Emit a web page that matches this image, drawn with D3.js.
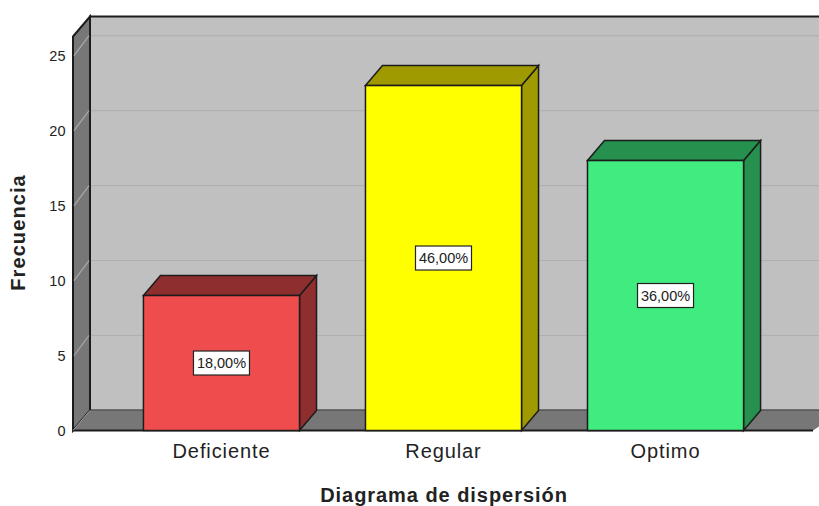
<!DOCTYPE html>
<html>
<head>
<meta charset="utf-8">
<script src="https://cdn.jsdelivr.net/npm/d3@7"></script>
<style>
html,body{margin:0;padding:0;background:#fff;overflow:hidden}
text{font-family:"Liberation Sans",Arial,sans-serif;fill:#222}
</style>
</head>
<body>
<svg id="chart" width="819" height="506"></svg>
<script>
// Survey frequencies per category
const categories = ["Deficiente", "Regular", "Optimo"];
const frequencies = [9, 23, 18];
const percentLabels = ["18,00%", "46,00%", "36,00%"];
const yTicks = [0, 5, 10, 15, 20, 25];
const frontColors = ["#ef4d4d", "#ffff00", "#40eb80"];
const shadeColors = ["#8f2e2e", "#9f9a00", "#26904e"];

const svg = d3.select("#chart");
const depth = {x: 17, y: -20};
const stroke = "#1c1c1c";

const y = d3.scaleLinear().domain([0, 26.27]).range([430.5, 36.5]);
const x = d3.scaleBand().domain(categories).range([73.5, 813.5])
  .paddingInner(0.297).paddingOuter(0.315).align(0.5);

const left = 73, right = 813, y0 = y(0), yTop = y(26.27);
const poly = pts => pts.map(p => p.join(",")).join(" ");

// Box shell: back wall, left wall, floor
const shell = svg.append("g");
shell.append("rect")
  .attr("x", left + depth.x).attr("y", yTop + depth.y)
  .attr("width", right - left + 30).attr("height", y0 - yTop)
  .attr("fill", "#c0c0c0").attr("stroke", stroke).attr("stroke-width", 2);
shell.append("polygon")
  .attr("points", poly([[left, yTop], [left + depth.x, yTop + depth.y], [left + depth.x, y0 + depth.y], [left, y0]]))
  .attr("fill", "#777").attr("stroke", stroke).attr("stroke-width", 2);
shell.append("polygon")
  .attr("points", poly([[left, y0], [left + depth.x, y0 + depth.y], [right + 30, y0 + depth.y], [right, y0]]))
  .attr("fill", "#777");
shell.append("line")
  .attr("x1", left + depth.x).attr("x2", right + 30)
  .attr("y1", y0 + depth.y).attr("y2", y0 + depth.y)
  .attr("stroke", "#5c5c5c").attr("stroke-width", 1.2);
shell.append("line")
  .attr("x1", left).attr("x2", right)
  .attr("y1", y0).attr("y2", y0)
  .attr("stroke", stroke).attr("stroke-width", 2);
shell.append("line")
  .attr("x1", left).attr("x2", left + depth.x)
  .attr("y1", y0).attr("y2", y0 + depth.y)
  .attr("stroke", "#a0a0a0");

// Gridlines run across the back wall and fold down the left wall
const grid = svg.append("g").selectAll("g").data(yTicks.filter(d => d > 0)).join("g");
grid.append("line")
  .attr("x1", left + depth.x + 1).attr("x2", right + 30)
  .attr("y1", d => y(d) + depth.y).attr("y2", d => y(d) + depth.y)
  .attr("stroke", "#b0b0b0").attr("stroke-width", 1.2);
grid.append("line")
  .attr("x1", left + 1).attr("x2", left + depth.x - 1)
  .attr("y1", d => y(d)).attr("y2", d => y(d) + depth.y)
  .attr("stroke", "#a8a8a8").attr("stroke-width", 1.2);

// Extruded bars
const bars = svg.append("g").selectAll("g").data(categories).join("g");
const bx = d => x(d), bw = x.bandwidth();
const val = i => frequencies[i];
bars.append("polygon")
  .attr("points", (d, i) => poly([[bx(d) + bw, y(val(i))], [bx(d) + bw + depth.x, y(val(i)) + depth.y], [bx(d) + bw + depth.x, y0 + depth.y], [bx(d) + bw, y0]]))
  .attr("fill", (d, i) => shadeColors[i]).attr("stroke", stroke).attr("stroke-width", 1.5);
bars.append("polygon")
  .attr("points", (d, i) => poly([[bx(d), y(val(i))], [bx(d) + depth.x, y(val(i)) + depth.y], [bx(d) + bw + depth.x, y(val(i)) + depth.y], [bx(d) + bw, y(val(i))]]))
  .attr("fill", (d, i) => shadeColors[i]).attr("stroke", stroke).attr("stroke-width", 1.5);
bars.append("rect")
  .attr("x", bx).attr("y", (d, i) => y(val(i)))
  .attr("width", bw).attr("height", (d, i) => y0 - y(val(i)))
  .attr("fill", (d, i) => frontColors[i]).attr("stroke", stroke).attr("stroke-width", 1.5);

// Percentage labels centred on each bar face
const tagW = 56, tagH = 24;
bars.append("rect")
  .attr("x", d => bx(d) + bw / 2 - tagW / 2)
  .attr("y", (d, i) => (y(val(i)) + y0) / 2 - tagH / 2)
  .attr("width", tagW).attr("height", tagH)
  .attr("fill", "#fff").attr("stroke", "#222").attr("stroke-width", 1.2);
bars.append("text")
  .attr("x", d => bx(d) + bw / 2)
  .attr("y", (d, i) => (y(val(i)) + y0) / 2)
  .attr("dy", "0.36em").attr("text-anchor", "middle")
  .attr("font-size", 14.5)
  .text((d, i) => percentLabels[i]);

// Axes
const yAxis = svg.append("g").attr("transform", `translate(${left},0.8)`)
  .call(d3.axisLeft(y).tickValues(yTicks).tickSize(0).tickPadding(7.5));
yAxis.select(".domain").remove();
yAxis.selectAll("text").attr("font-size", 14.5).style("font-family", '"Liberation Sans",Arial,sans-serif');

const xAxis = svg.append("g").attr("transform", `translate(0,${y0})`)
  .call(d3.axisBottom(x).tickSize(0).tickPadding(13));
xAxis.select(".domain").remove();
xAxis.selectAll("text").attr("font-size", 20).attr("letter-spacing", 0.9)
  .attr("fill", "#333").style("font-family", '"Liberation Sans",Arial,sans-serif');

svg.append("text")
  .attr("x", 444).attr("y", 502).attr("text-anchor", "middle")
  .attr("font-size", 20).attr("font-weight", "bold").attr("letter-spacing", 0.95)
  .text("Diagrama de dispersión");
svg.append("text")
  .attr("transform", "translate(25,232.5) rotate(-90)").attr("text-anchor", "middle")
  .attr("font-size", 20).attr("font-weight", "bold").attr("letter-spacing", 1.1)
  .text("Frecuencia");
</script>
</body>
</html>
